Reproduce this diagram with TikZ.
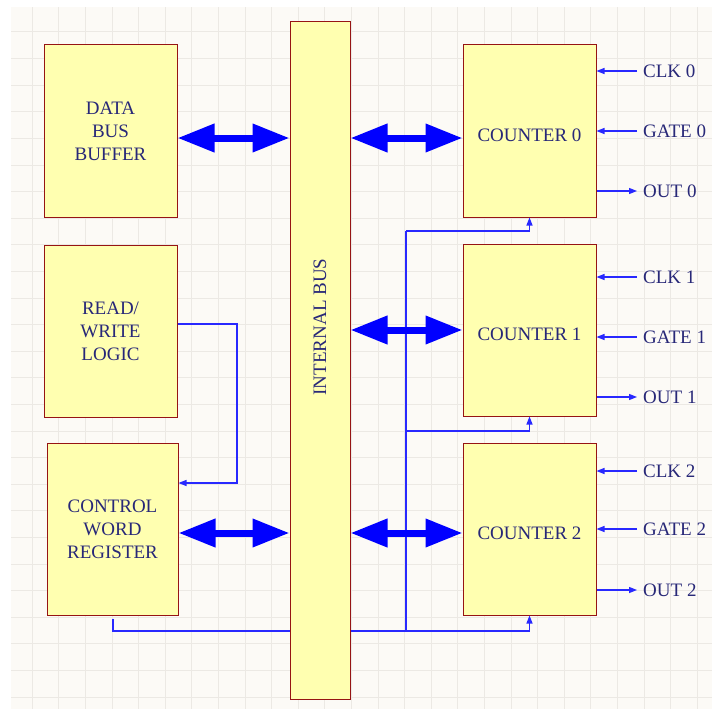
\documentclass[tikz,border=0pt]{standalone}
\usepackage{fontspec}
\setmainfont{Liberation Serif}
\usetikzlibrary{arrows.meta, positioning, calc}
\definecolor{gridbg}{RGB}{252,250,246}
\definecolor{gridln}{RGB}{236,233,228}
\definecolor{boxfill}{RGB}{255,255,176}
\definecolor{boxedge}{RGB}{150,20,20}
\definecolor{labeltext}{RGB}{40,40,120}
\definecolor{wireblue}{RGB}{40,40,255}

\begin{document}
\begin{tikzpicture}[x=1pt, y=-1pt,
    block/.style={draw=boxedge, fill=boxfill, line width=1pt, align=center,
        text=labeltext, font=\fontsize{19}{23}\selectfont, inner sep=0pt},
    counter/.style={block, minimum width=133pt, minimum height=172pt, text height=22pt},
    busarrow/.style={blue, line width=7pt,
        {Triangle[width=27pt,length=37pt]}-{Triangle[width=27pt,length=37pt]}},
    wire/.style={draw=wireblue, line width=1.3pt},
    pin/.style={wire, -{Triangle[width=6pt,length=8pt]}},
    pinlabel/.style={anchor=west, text=labeltext, font=\fontsize{19}{23}\selectfont,
        inner xsep=6pt, inner ysep=2pt}]
    \useasboundingbox (0,0) rectangle (712,709);

    % Grid
    \fill[gridbg] (11,7) rectangle (712,709);
    \foreach \k in {0,...,25} {
        \draw[gridln, line width=1pt] (32.3+26.6*\k,7) -- (32.3+26.6*\k,709);
        \draw[gridln, line width=1pt] (11,32+26.6*\k) -- (712,32+26.6*\k);
    }

    % Left column
    \node[block, minimum width=133pt, minimum height=172pt] (dbb) at (110.5,131) {DATA\\BUS\\BUFFER};
    \node[block, minimum width=133pt, minimum height=172pt] (rw) at (110.5,331) {READ/\\WRITE\\LOGIC};
    \node[block, minimum width=131pt, minimum height=172pt] (cw) at (112.5,529) {CONTROL\\WORD\\REGISTER};

    % Internal bus
    \node[block, minimum width=60pt, minimum height=677pt] (bus) at (320,360.5) {};
    \node[rotate=90, text=labeltext, font=\fontsize{19}{23}\selectfont] (buslabel) at (320,327) {INTERNAL BUS};

    % Counters
    \node[counter] (c0) at (529.5,131) {COUNTER 0};
    \node[counter] (c1) at (529.5,330) {COUNTER 1};
    \node[counter] (c2) at (529.5,529) {COUNTER 2};

    % Wires to the counters
    \coordinate (rwa) at (237,324);
    \coordinate (rwb) at (237,483);
    \coordinate (cwtap) at (113,631);
    \coordinate (trunk) at (406,631);
    \coordinate (tap0) at (406,231);
    \coordinate (tap1) at (406,431);
    \draw[pin] (rw.east |- rwa) -- (rwa) -- (rwb) -- (rwb -| cw.east);
    \draw[wire] ([yshift=-3pt]cw.south -| cwtap) -- (cwtap) -- (cwtap -| bus.west);
    \draw[pin] (bus.east |- cwtap) -| (c2.south);
    \draw[wire] (trunk) -- (tap0);
    \draw[pin] (tap0) -| (c0.south);
    \draw[pin] (tap1) -| (c1.south);

    % Bus arrows
    \draw[busarrow] ([yshift=-7pt]dbb.east) -- ([yshift=-7pt]dbb.east -| bus.west);
    \draw[busarrow] ([yshift=-4pt]cw.east) -- ([yshift=-4pt]cw.east -| bus.west);
    \draw[busarrow] ([yshift=-7pt]c0.west -| bus.east) -- ([yshift=-7pt]c0.west);
    \draw[busarrow] (c1.west -| bus.east) -- (c1.west);
    \draw[busarrow] ([yshift=-4pt]c2.west -| bus.east) -- ([yshift=-4pt]c2.west);

    % Pins
    \foreach \i/\yc/\yg/\yo in {0/71/131/191, 1/277/337/397, 2/471/529/590} {
        \node[pinlabel] (clk\i) at (637,\yc) {CLK \i};
        \node[pinlabel] (gate\i) at (637,\yg) {GATE \i};
        \node[pinlabel] (out\i) at (637,\yo) {OUT \i};
        \draw[pin] (clk\i.west) -- (clk\i.west -| c\i.east);
        \draw[pin] (gate\i.west) -- (gate\i.west -| c\i.east);
        \draw[pin] (out\i.west -| c\i.east) -- (out\i.west);
    }

\end{tikzpicture}
\end{document}
